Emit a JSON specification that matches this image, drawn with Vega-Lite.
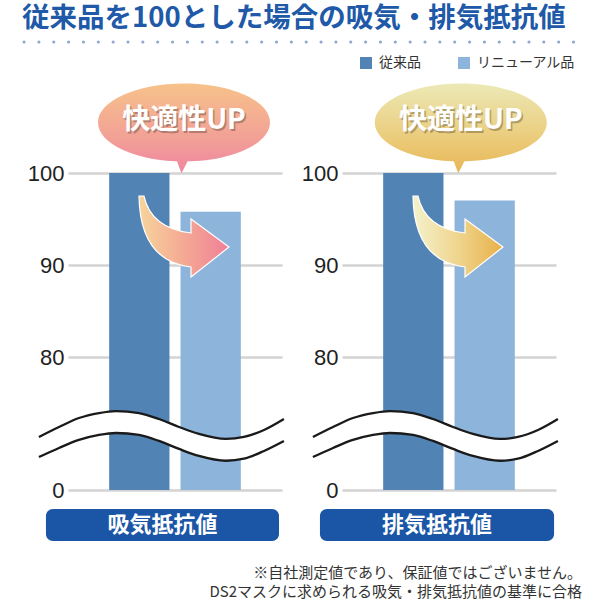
{
"$schema": "https://vega.github.io/schema/vega-lite/v6.json",
"background": "white",
"padding": {"left": 22, "top": 5, "right": 6, "bottom": 0},
"title": {"text": "従来品を100とした場合の吸気・排気抵抗値", "anchor": "start", "font": "Noto Sans CJK JP", "fontSize": 27.5, "fontWeight": "bold", "color": "#2059a8", "offset": 6, "dx": 0},
"datasets": {
  "bars": [
    {"panel": "吸気抵抗値", "product": "従来品", "value": 100},
    {"panel": "吸気抵抗値", "product": "リニューアル品", "value": 95.8},
    {"panel": "排気抵抗値", "product": "従来品", "value": 100},
    {"panel": "排気抵抗値", "product": "リニューアル品", "value": 97.0}
  ],
  "wave": [
    {"pos": -13.6, "top": 31.9, "bottom": 19.8},
    {"pos": -4.2, "top": 37.9, "bottom": 25.3},
    {"pos": 5.1, "top": 43.3, "bottom": 30.1},
    {"pos": 14.5, "top": 46.3, "bottom": 33.1},
    {"pos": 22.4, "top": 47.5, "bottom": 34.3},
    {"pos": 33.2, "top": 46.3, "bottom": 33.1},
    {"pos": 42.5, "top": 42.7, "bottom": 29.5},
    {"pos": 51.9, "top": 37.9, "bottom": 24.7},
    {"pos": 61.2, "top": 33.7, "bottom": 20.5},
    {"pos": 73.8, "top": 30.7, "bottom": 17.6},
    {"pos": 82.2, "top": 31.9, "bottom": 18.8},
    {"pos": 91.6, "top": 36.1, "bottom": 23.5},
    {"pos": 100.9, "top": 42.7, "bottom": 29.5}
  ],
  "panels": [
    {"panel": "吸気抵抗値", "badge": "快適性UP"},
    {"panel": "排気抵抗値", "badge": "快適性UP"}
  ],
  "notes": [
    {"line": 1, "text": "※自社測定値であり、保証値ではございません。"},
    {"line": 2, "text": "DS2マスクに求められる吸気・排気抵抗値の基準に合格"}
  ]
},
"spacing": 20,
"bounds": "full",
"vconcat": [
  {
    "width": 514, "height": 18,
    "data": {"values": [{}]},
    "mark": {"type": "rule", "color": "#8fa7cf", "strokeWidth": 3, "strokeCap": "round", "strokeDash": [0.1, 14.75]},
    "encoding": {
      "x": {"datum": -8.56, "type": "quantitative", "scale": {"domain": [0, 100], "nice": false, "zero": false}, "axis": null},
      "x2": {"datum": 100},
      "y": {"datum": 15, "type": "quantitative", "scale": {"domain": [0, 18], "nice": false, "zero": false}, "axis": null}
    }
  },
  {
    "hconcat": [
      {
        "width": 214, "height": 411,
        "layer": [
          {
            "data": {"name": "bars"},
            "transform": [{"filter": "datum.panel === '吸気抵抗値'"}],
            "mark": {"type": "bar"},
            "encoding": {
              "x": {"field": "product", "type": "nominal", "sort": ["従来品", "リニューアル品"], "axis": null, "scale": {"paddingInner": 0.155, "paddingOuter": 0.577}},
              "y": {"field": "value", "type": "quantitative", "scale": {"domain": [0, 80, 100], "range": [411, 278, 94], "nice": false, "zero": false}, "axis": {"values": [0, 80, 90, 100], "title": null}},
              "color": {"field": "product", "type": "nominal", "scale": {"domain": ["従来品", "リニューアル品"], "range": ["#5283b5", "#8db4da"]},
                        "legend": {"orient": "none", "legendX": 291, "legendY": 17, "direction": "horizontal", "title": null, "symbolType": "square", "symbolSize": 144, "symbolStrokeWidth": 0, "labelFont": "Noto Sans CJK JP", "labelFontSize": 14, "labelColor": "#333", "columnPadding": 36, "labelOffset": 6}}
            }
          },
          {
            "data": {"name": "wave"},
            "mark": {"type": "area", "color": "white", "interpolate": "monotone"},
            "encoding": {
              "x": {"field": "pos", "type": "quantitative", "scale": {"domain": [0, 100], "nice": false, "zero": false}, "axis": null},
              "y": {"field": "top", "type": "quantitative", "scale": {"domain": [0, 80, 100], "range": [411, 278, 94], "nice": false, "zero": false}, "axis": {"values": [0, 80, 90, 100], "title": null}},
              "y2": {"field": "bottom"}
            }
          },
          {
            "data": {"name": "wave"},
            "mark": {"type": "line", "color": "#1a1a1a", "strokeWidth": 2.3, "interpolate": "monotone"},
            "encoding": {
              "x": {"field": "pos", "type": "quantitative", "scale": {"domain": [0, 100], "nice": false, "zero": false}, "axis": null},
              "y": {"field": "top", "type": "quantitative", "scale": {"domain": [0, 80, 100], "range": [411, 278, 94], "nice": false, "zero": false}, "axis": {"values": [0, 80, 90, 100], "title": null}}
            }
          },
          {
            "data": {"name": "wave"},
            "mark": {"type": "line", "color": "#1a1a1a", "strokeWidth": 2.3, "interpolate": "monotone"},
            "encoding": {
              "x": {"field": "pos", "type": "quantitative", "scale": {"domain": [0, 100], "nice": false, "zero": false}, "axis": null},
              "y": {"field": "bottom", "type": "quantitative", "scale": {"domain": [0, 80, 100], "range": [411, 278, 94], "nice": false, "zero": false}, "axis": {"values": [0, 80, 90, 100], "title": null}}
            }
          },
          {
            "data": {"name": "panels"},
            "transform": [{"filter": "datum.panel === '吸気抵抗値'"}],
            "mark": {"type": "point", "shape": "M-0.9,-0.8Q-0.88,0.5 0.14,0.62L0.14,0.82L0.9,0.22L0.14,-0.34L0.14,-0.06Q-0.66,-0.16 -0.8,-0.8Z", "size": 10000, "filled": true, "opacity": 1, "stroke": "white", "strokeWidth": 1.2,
                     "fill": {"gradient": "linear", "x1": 0, "y1": 0, "x2": 1, "y2": 0, "stops": [{"offset": 0, "color": "#f7d49c"}, {"offset": 0.5, "color": "#f4a994"}, {"offset": 1, "color": "#f07f98"}]}},
            "encoding": {
              "x": {"datum": 54.2, "type": "quantitative", "scale": {"domain": [0, 100], "nice": false, "zero": false}, "axis": null},
              "y": {"datum": 93.15, "type": "quantitative", "scale": {"domain": [0, 80, 100], "range": [411, 278, 94], "nice": false, "zero": false}, "axis": {"values": [0, 80, 90, 100], "title": null}}
            }
          },
          {
            "data": {"name": "panels"},
            "transform": [{"filter": "datum.panel === '吸気抵抗値'"}],
            "mark": {"type": "point", "shape": "M-1,0C-1,-0.25 -0.552,-0.453 0,-0.453C0.552,-0.453 1,-0.25 1,0C1,0.25 0.552,0.453 0,0.453C-0.552,0.453 -1,0.25 -1,0ZM0.07,0.4L-0.03,0.59L-0.1,0.4Z", "size": 29584, "filled": true, "opacity": 1, "strokeWidth": 0,
                     "fill": {"gradient": "linear", "x1": 0, "y1": 0, "x2": 0, "y2": 1, "stops": [{"offset": 0, "color": "#f7c28a"}, {"offset": 0.6, "color": "#f2a196"}, {"offset": 1, "color": "#ef86a0"}]}},
            "encoding": {
              "x": {"datum": 54.2, "type": "quantitative", "scale": {"domain": [0, 100], "nice": false, "zero": false}, "axis": null},
              "y": {"datum": 105.5, "type": "quantitative", "scale": {"domain": [0, 80, 100], "range": [411, 278, 94], "nice": false, "zero": false}, "axis": {"values": [0, 80, 90, 100], "title": null}}
            }
          },
          {
            "data": {"name": "panels"},
            "transform": [{"filter": "datum.panel === '吸気抵抗値'"}],
            "mark": {"type": "text", "font": "Noto Sans CJK JP", "fontSize": 28, "fontWeight": "bold", "color": "#6b4a44", "opacity": 0.45, "dx": 1.5, "dy": 2, "baseline": "middle", "align": "center"},
            "encoding": {
              "x": {"datum": 54.2, "type": "quantitative", "scale": {"domain": [0, 100], "nice": false, "zero": false}, "axis": null},
              "y": {"datum": 105.6, "type": "quantitative", "scale": {"domain": [0, 80, 100], "range": [411, 278, 94], "nice": false, "zero": false}, "axis": {"values": [0, 80, 90, 100], "title": null}},
              "text": {"field": "badge"}
            }
          },
          {
            "data": {"name": "panels"},
            "transform": [{"filter": "datum.panel === '吸気抵抗値'"}],
            "mark": {"type": "text", "font": "Noto Sans CJK JP", "fontSize": 28, "fontWeight": "bold", "color": "white", "baseline": "middle", "align": "center"},
            "encoding": {
              "x": {"datum": 54.2, "type": "quantitative", "scale": {"domain": [0, 100], "nice": false, "zero": false}, "axis": null},
              "y": {"datum": 105.6, "type": "quantitative", "scale": {"domain": [0, 80, 100], "range": [411, 278, 94], "nice": false, "zero": false}, "axis": {"values": [0, 80, 90, 100], "title": null}},
              "text": {"field": "badge"}
            }
          },
          {
            "data": {"name": "panels"},
            "transform": [{"filter": "datum.panel === '吸気抵抗値'"}],
            "mark": {"type": "rect", "color": "#1b55a6", "cornerRadius": 7},
            "encoding": {
              "x": {"datum": -10.3, "type": "quantitative", "scale": {"domain": [0, 100], "nice": false, "zero": false}, "axis": null},
              "x2": {"datum": 98.6},
              "y": {"datum": -11.4, "type": "quantitative", "scale": {"domain": [0, 80, 100], "range": [411, 278, 94], "nice": false, "zero": false}, "axis": {"values": [0, 80, 90, 100], "title": null}},
              "y2": {"datum": -30.7}
            }
          },
          {
            "data": {"name": "panels"},
            "transform": [{"filter": "datum.panel === '吸気抵抗値'"}],
            "mark": {"type": "text", "font": "Noto Sans CJK JP", "fontSize": 22, "fontWeight": "bold", "color": "white", "baseline": "middle", "align": "center"},
            "encoding": {
              "x": {"datum": 44.2, "type": "quantitative", "scale": {"domain": [0, 100], "nice": false, "zero": false}, "axis": null},
              "y": {"datum": -21.0, "type": "quantitative", "scale": {"domain": [0, 80, 100], "range": [411, 278, 94], "nice": false, "zero": false}, "axis": {"values": [0, 80, 90, 100], "title": null}},
              "text": {"field": "panel"}
            }
          }
        ],
        "resolve": {"scale": {"x": "independent"}}
      },
      {
        "width": 214, "height": 411,
        "layer": [
          {
            "data": {"name": "bars"},
            "transform": [{"filter": "datum.panel === '排気抵抗値'"}],
            "mark": {"type": "bar"},
            "encoding": {
              "x": {"field": "product", "type": "nominal", "sort": ["従来品", "リニューアル品"], "axis": null, "scale": {"paddingInner": 0.155, "paddingOuter": 0.577}},
              "y": {"field": "value", "type": "quantitative", "scale": {"domain": [0, 80, 100], "range": [411, 278, 94], "nice": false, "zero": false}, "axis": {"values": [0, 80, 90, 100], "title": null}},
              "color": {"field": "product", "type": "nominal", "scale": {"domain": ["従来品", "リニューアル品"], "range": ["#5283b5", "#8db4da"]},
                        "legend": {"orient": "none", "legendX": 291, "legendY": 17, "direction": "horizontal", "title": null, "symbolType": "square", "symbolSize": 144, "symbolStrokeWidth": 0, "labelFont": "Noto Sans CJK JP", "labelFontSize": 14, "labelColor": "#333", "columnPadding": 36, "labelOffset": 6}}
            }
          },
          {
            "data": {"name": "wave"},
            "mark": {"type": "area", "color": "white", "interpolate": "monotone"},
            "encoding": {
              "x": {"field": "pos", "type": "quantitative", "scale": {"domain": [0, 100], "nice": false, "zero": false}, "axis": null},
              "y": {"field": "top", "type": "quantitative", "scale": {"domain": [0, 80, 100], "range": [411, 278, 94], "nice": false, "zero": false}, "axis": {"values": [0, 80, 90, 100], "title": null}},
              "y2": {"field": "bottom"}
            }
          },
          {
            "data": {"name": "wave"},
            "mark": {"type": "line", "color": "#1a1a1a", "strokeWidth": 2.3, "interpolate": "monotone"},
            "encoding": {
              "x": {"field": "pos", "type": "quantitative", "scale": {"domain": [0, 100], "nice": false, "zero": false}, "axis": null},
              "y": {"field": "top", "type": "quantitative", "scale": {"domain": [0, 80, 100], "range": [411, 278, 94], "nice": false, "zero": false}, "axis": {"values": [0, 80, 90, 100], "title": null}}
            }
          },
          {
            "data": {"name": "wave"},
            "mark": {"type": "line", "color": "#1a1a1a", "strokeWidth": 2.3, "interpolate": "monotone"},
            "encoding": {
              "x": {"field": "pos", "type": "quantitative", "scale": {"domain": [0, 100], "nice": false, "zero": false}, "axis": null},
              "y": {"field": "bottom", "type": "quantitative", "scale": {"domain": [0, 80, 100], "range": [411, 278, 94], "nice": false, "zero": false}, "axis": {"values": [0, 80, 90, 100], "title": null}}
            }
          },
          {
            "data": {"name": "panels"},
            "transform": [{"filter": "datum.panel === '排気抵抗値'"}],
            "mark": {"type": "point", "shape": "M-0.9,-0.8Q-0.88,0.5 0.14,0.62L0.14,0.82L0.9,0.22L0.14,-0.34L0.14,-0.06Q-0.66,-0.16 -0.8,-0.8Z", "size": 10000, "filled": true, "opacity": 1, "stroke": "white", "strokeWidth": 1.2,
                     "fill": {"gradient": "linear", "x1": 0, "y1": 0, "x2": 1, "y2": 0, "stops": [{"offset": 0, "color": "#f4f2cc"}, {"offset": 0.5, "color": "#efd58e"}, {"offset": 1, "color": "#e8b048"}]}},
            "encoding": {
              "x": {"datum": 54.2, "type": "quantitative", "scale": {"domain": [0, 100], "nice": false, "zero": false}, "axis": null},
              "y": {"datum": 93.15, "type": "quantitative", "scale": {"domain": [0, 80, 100], "range": [411, 278, 94], "nice": false, "zero": false}, "axis": {"values": [0, 80, 90, 100], "title": null}}
            }
          },
          {
            "data": {"name": "panels"},
            "transform": [{"filter": "datum.panel === '排気抵抗値'"}],
            "mark": {"type": "point", "shape": "M-1,0C-1,-0.25 -0.552,-0.453 0,-0.453C0.552,-0.453 1,-0.25 1,0C1,0.25 0.552,0.453 0,0.453C-0.552,0.453 -1,0.25 -1,0ZM0.07,0.4L-0.03,0.59L-0.1,0.4Z", "size": 29584, "filled": true, "opacity": 1, "strokeWidth": 0,
                     "fill": {"gradient": "linear", "x1": 0, "y1": 0, "x2": 0, "y2": 1, "stops": [{"offset": 0, "color": "#ece9b6"}, {"offset": 0.6, "color": "#ebcc7c"}, {"offset": 1, "color": "#e8b656"}]}},
            "encoding": {
              "x": {"datum": 55.5, "type": "quantitative", "scale": {"domain": [0, 100], "nice": false, "zero": false}, "axis": null},
              "y": {"datum": 105.5, "type": "quantitative", "scale": {"domain": [0, 80, 100], "range": [411, 278, 94], "nice": false, "zero": false}, "axis": {"values": [0, 80, 90, 100], "title": null}}
            }
          },
          {
            "data": {"name": "panels"},
            "transform": [{"filter": "datum.panel === '排気抵抗値'"}],
            "mark": {"type": "text", "font": "Noto Sans CJK JP", "fontSize": 28, "fontWeight": "bold", "color": "#6b5a34", "opacity": 0.45, "dx": 1.5, "dy": 2, "baseline": "middle", "align": "center"},
            "encoding": {
              "x": {"datum": 55.5, "type": "quantitative", "scale": {"domain": [0, 100], "nice": false, "zero": false}, "axis": null},
              "y": {"datum": 105.6, "type": "quantitative", "scale": {"domain": [0, 80, 100], "range": [411, 278, 94], "nice": false, "zero": false}, "axis": {"values": [0, 80, 90, 100], "title": null}},
              "text": {"field": "badge"}
            }
          },
          {
            "data": {"name": "panels"},
            "transform": [{"filter": "datum.panel === '排気抵抗値'"}],
            "mark": {"type": "text", "font": "Noto Sans CJK JP", "fontSize": 28, "fontWeight": "bold", "color": "white", "baseline": "middle", "align": "center"},
            "encoding": {
              "x": {"datum": 55.5, "type": "quantitative", "scale": {"domain": [0, 100], "nice": false, "zero": false}, "axis": null},
              "y": {"datum": 105.6, "type": "quantitative", "scale": {"domain": [0, 80, 100], "range": [411, 278, 94], "nice": false, "zero": false}, "axis": {"values": [0, 80, 90, 100], "title": null}},
              "text": {"field": "badge"}
            }
          },
          {
            "data": {"name": "panels"},
            "transform": [{"filter": "datum.panel === '排気抵抗値'"}],
            "mark": {"type": "rect", "color": "#1b55a6", "cornerRadius": 7},
            "encoding": {
              "x": {"datum": -10.3, "type": "quantitative", "scale": {"domain": [0, 100], "nice": false, "zero": false}, "axis": null},
              "x2": {"datum": 99.1},
              "y": {"datum": -11.4, "type": "quantitative", "scale": {"domain": [0, 80, 100], "range": [411, 278, 94], "nice": false, "zero": false}, "axis": {"values": [0, 80, 90, 100], "title": null}},
              "y2": {"datum": -30.7}
            }
          },
          {
            "data": {"name": "panels"},
            "transform": [{"filter": "datum.panel === '排気抵抗値'"}],
            "mark": {"type": "text", "font": "Noto Sans CJK JP", "fontSize": 22, "fontWeight": "bold", "color": "white", "baseline": "middle", "align": "center"},
            "encoding": {
              "x": {"datum": 44.4, "type": "quantitative", "scale": {"domain": [0, 100], "nice": false, "zero": false}, "axis": null},
              "y": {"datum": -21.0, "type": "quantitative", "scale": {"domain": [0, 80, 100], "range": [411, 278, 94], "nice": false, "zero": false}, "axis": {"values": [0, 80, 90, 100], "title": null}},
              "text": {"field": "panel"}
            }
          }
        ],
        "resolve": {"scale": {"x": "independent"}}
      }
    ],
    "spacing": 60,
    "bounds": "flush"
  },
  {
    "width": 514, "height": 38,
    "data": {"name": "notes"},
    "mark": {"type": "text", "align": "right", "baseline": "middle", "font": "Noto Sans CJK JP", "fontSize": 15, "color": "#333"},
    "encoding": {
      "y": {"field": "line", "type": "ordinal", "axis": null, "scale": {"padding": 0.5}},
      "x": {"datum": 1, "type": "quantitative", "scale": {"domain": [0, 1], "nice": false, "zero": false}, "axis": null},
      "text": {"field": "text"}
    }
  }
],
"config": {
  "view": {"stroke": "transparent"},
  "font": "Noto Sans CJK JP",
  "axisY": {"domain": false, "ticks": false, "grid": true, "gridColor": "#d3d3d3", "gridWidth": 2.5, "labelFont": "Liberation Sans", "labelFontSize": 22, "labelColor": "#222", "labelPadding": 4}
}
}
